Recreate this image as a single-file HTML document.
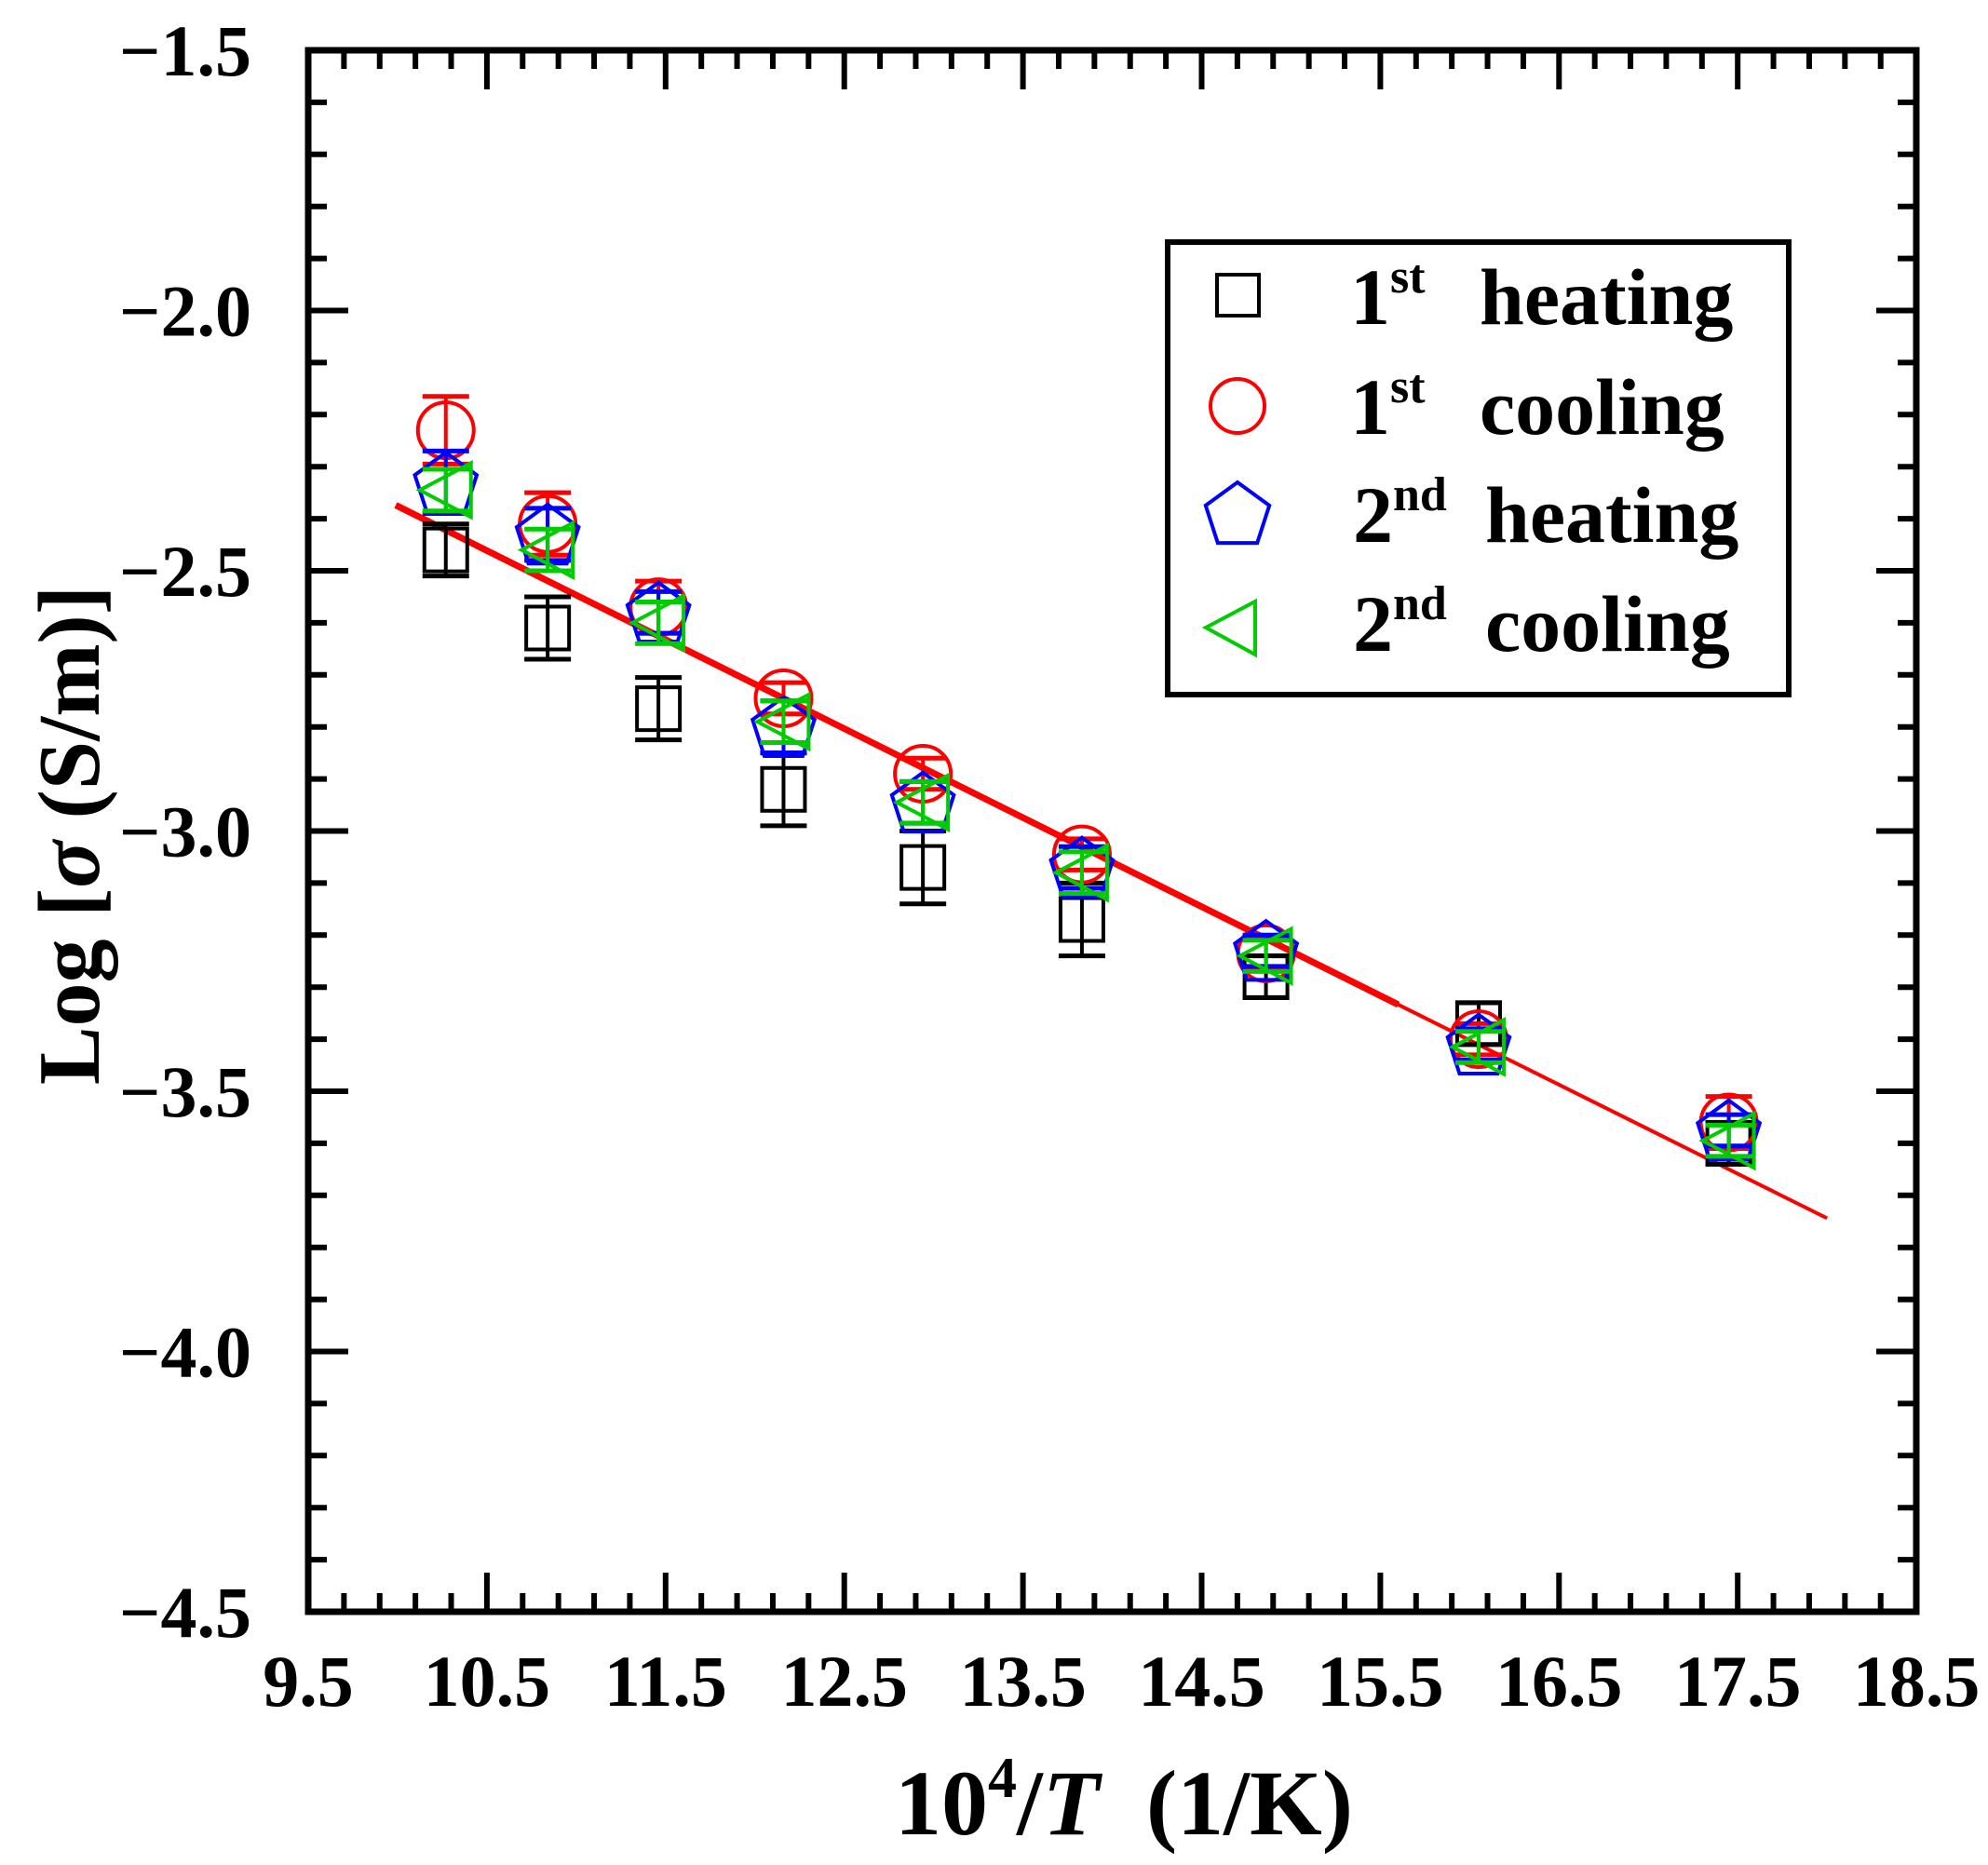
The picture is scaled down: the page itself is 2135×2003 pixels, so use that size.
<!DOCTYPE html>
<html><head><meta charset="utf-8"><style>
html,body{margin:0;padding:0;background:#fff;}
svg{display:block;}
text{font-family:"Liberation Serif",serif;font-weight:bold;fill:#000;}
</style></head><body>
<svg id="chart" width="2135" height="2003" viewBox="0 0 2135 2003" xmlns="http://www.w3.org/2000/svg">
<g id="ticks"></g>
<g id="marks"></g>
<rect x="331" y="54" width="1727" height="1677" fill="none" stroke="#000" stroke-width="7"/>
<g id="labels"></g>
<text x="1207" y="1970" font-size="100" text-anchor="middle" xml:space="preserve">10<tspan dy="-40" font-size="62">4</tspan><tspan dy="40">/</tspan><tspan font-style="italic">T</tspan>  (1/K)</text>
<text transform="translate(106,897) rotate(-90)" font-size="94" text-anchor="middle">Log [<tspan font-style="italic">σ</tspan> (S/m)]</text>
<g>
<rect x="1254" y="260" width="667" height="486" fill="#fff" stroke="#000" stroke-width="6"/>
<rect x="1307" y="295" width="45" height="44" fill="none" stroke="#000" stroke-width="4"/>
<circle cx="1329" cy="436" r="29" fill="none" stroke="#f00" stroke-width="4"/>
<polygon id="legpent" fill="none" stroke="#00f" stroke-width="4"/>
<polygon points="1348,646 1348,703 1295,674" fill="none" stroke="#0c0" stroke-width="4"/>
<text x="1450" y="348" font-size="86">1<tspan dy="-34" font-size="52">st</tspan><tspan x="1589" dy="34">heating</tspan></text>
<text x="1450" y="466" font-size="86">1<tspan dy="-34" font-size="52">st</tspan><tspan x="1589" dy="34">cooling</tspan></text>
<text x="1453" y="582" font-size="86">2<tspan dy="-34" font-size="52">nd</tspan><tspan x="1595" dy="34">heating</tspan></text>
<text x="1453" y="699" font-size="86">2<tspan dy="-34" font-size="52">nd</tspan><tspan x="1595" dy="34">cooling</tspan></text>
</g>
</svg>
<script>
const xTickLabels = ["9.5","10.5","11.5","12.5","13.5","14.5","15.5","16.5","17.5","18.5"];
const yTickLabels = ["\u22121.5","\u22122.0","\u22122.5","\u22123.0","\u22123.5","\u22124.0","\u22124.5"];
const xValues = [10.27, 10.84, 11.46, 12.16, 12.94, 13.83, 14.86, 16.05, 17.45];
const heating1 = [-2.46, -2.61, -2.765, -2.92, -3.07, -3.17, -3.28, -3.37, -3.60];
const heating1Err = [0.05, 0.06, 0.06, 0.07, 0.07, 0.07, 0.04, 0.04, 0.04];
const cooling1 = [-2.23, -2.41, -2.57, -2.745, -2.89, -3.045, -3.235, -3.40, -3.56];
const cooling1Err = [0.065, 0.06, 0.05, 0.03, 0.03, 0.03, 0.03, 0.03, 0.05];
const heating2 = [-2.33, -2.43, -2.58, -2.80, -2.945, -3.07, -3.23, -3.41, -3.575];
const heating2Err = [0.06, 0.05, 0.04, 0.05, 0.04, 0.04, 0.03, 0.03, 0.03];
const cooling2 = [-2.345, -2.46, -2.60, -2.79, -2.945, -3.08, -3.24, -3.415, -3.595];
const cooling2Err = [0.04, 0.04, 0.04, 0.04, 0.04, 0.04, 0.03, 0.03, 0.03];
const fitX = [9.99, 18.0];
const fitY = [-2.374, -3.744];

const NS = "http://www.w3.org/2000/svg";
const X = v => 331 + (v - 9.5) * 191.9;
const Y = v => 54 + (-1.5 - v) * 559;
function mk(parent, tag, attrs){const e=document.createElementNS(NS,tag);for(const k in attrs)e.setAttribute(k,attrs[k]);parent.appendChild(e);return e;}
const ticks=document.getElementById('ticks'), labels=document.getElementById('labels'), marks=document.getElementById('marks');
for(let i=0;i<=45;i++){
  const v=9.5+i*0.2, x=X(v), major=i%5===0, L=major?42:20;
  let t=mk(ticks,'line',{x1:x,x2:x,y1:1731,y2:1731-L,stroke:'#000','stroke-width':6});
  
  
  t=mk(ticks,'line',{x1:x,x2:x,y1:54,y2:54+L,stroke:'#000','stroke-width':6});
  
  
}
xTickLabels.forEach((s,i)=>{
  const t=mk(labels,'text',{x:X(parseFloat(s)),y:1832,'font-size':78,'text-anchor':'middle'});
  t.textContent=s;
  
  
});
for(let i=0;i<=30;i++){
  const v=-1.5-i*0.1, y=Y(v), major=i%5===0, L=major?43:20;
  let t=mk(ticks,'line',{x1:331,x2:331+L,y1:y,y2:y,stroke:'#000','stroke-width':6});
  
  
  t=mk(ticks,'line',{x1:2058,x2:2058-L,y1:y,y2:y,stroke:'#000','stroke-width':6});
  
  
}
yTickLabels.forEach((s,i)=>{
  const t=mk(labels,'text',{x:270,y:Y(parseFloat(s.replace('\u2212','-')))+27,'font-size':78,'text-anchor':'end'});
  t.textContent=s;
  
  
});
let fl=mk(marks,'line',{x1:X(fitX[0]),y1:Y(fitY[0]),x2:X(fitX[1]),y2:Y(fitY[1]),stroke:'#f00','stroke-width':4});


const midX=15.6, midY=fitY[0]+(fitY[1]-fitY[0])*(midX-fitX[0])/(fitX[1]-fitX[0]);
fl=mk(marks,'line',{x1:X(fitX[0]),y1:Y(fitY[0]),x2:X(midX),y2:Y(midY),stroke:'#f00','stroke-width':7});



function pentPts(cx,cy,r){const p=[];for(let k=0;k<5;k++){const a=-Math.PI/2+k*2*Math.PI/5;p.push((cx+r*Math.cos(a)).toFixed(1)+','+(cy+r*Math.sin(a)).toFixed(1));}return p.join(' ');}
document.getElementById('legpent').setAttribute('points',pentPts(1329,554,36));

function errbar(g,x,y,e,color){
  const y1=Y(y+e), y2=Y(y-e);
  mk(g,'line',{x1:x,x2:x,y1:y1,y2:y2,stroke:color,'stroke-width':4});
  mk(g,'line',{x1:x-25,x2:x+25,y1:y1,y2:y1,stroke:color,'stroke-width':5});
  mk(g,'line',{x1:x-25,x2:x+25,y1:y2,y2:y2,stroke:color,'stroke-width':5});
}
function series(name,vals,errs,color,shape){
  const g=mk(marks,'g',{});
  
  
  vals.forEach((v,i)=>{
    const x=X(xValues[i]), y=Y(v);
    errbar(g,x,v,errs[i],color);
    let m;
    if(shape==='square') m=mk(g,'rect',{x:x-23,y:y-23,width:46,height:46,fill:'none',stroke:color,'stroke-width':4});
    else if(shape==='circle') m=mk(g,'circle',{cx:x,cy:y,r:30,fill:'none',stroke:color,'stroke-width':4});
    else if(shape==='pent') m=mk(g,'polygon',{points:pentPts(x,y+3,35),fill:'none',stroke:color,'stroke-width':4});
    else m=mk(g,'polygon',{points:(x+27)+','+(y-29)+' '+(x+27)+','+(y+29)+' '+(x-28)+','+y,fill:'none',stroke:color,'stroke-width':4});
    
    
  });
}
series('first-heating',heating1,heating1Err,'#000','square');
series('first-cooling',cooling1,cooling1Err,'#f00','circle');
series('second-heating',heating2,heating2Err,'#00f','pent');
series('second-cooling',cooling2,cooling2Err,'#0c0','tri');
</script>
</body></html>
